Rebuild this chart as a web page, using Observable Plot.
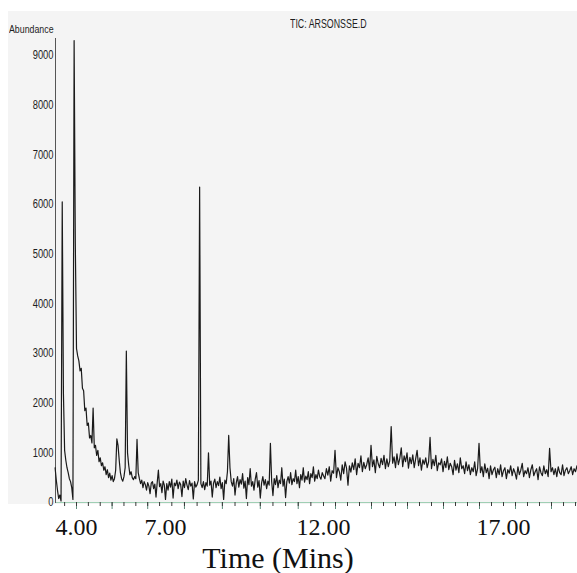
<!DOCTYPE html>
<html>
<head>
<meta charset="utf-8">
<script src="https://cdn.jsdelivr.net/npm/d3@7"></script>
<script src="https://cdn.jsdelivr.net/npm/@observablehq/plot@0.6"></script>
<style>
  body { margin: 0; background: #fff; }
  #wrap { position: relative; width: 577px; height: 573px; overflow: hidden; }
  #scan { position: absolute; left: 8px; top: 11px; width: 569px; height: 493px; background: #f4f4f4; }
  #chart { position: absolute; left: 0; top: 0; }
  .lbl { position: absolute; font-family: "Liberation Sans", Arial, sans-serif; color: #1e1e1e; white-space: nowrap; line-height: 1; transform-origin: left top; }
  #ylab { left: 9px; top: 24px; font-size: 11px; transform: scaleX(0.8); }
  #title { left: 290px; top: 17px; font-size: 13px; transform: scaleX(0.68); }
  #xlab { position: absolute; left: 0; width: 556px; top: 543px; text-align: center; font-family: "Liberation Serif", "Times New Roman", serif; font-size: 30px; line-height: 1; color: #111; }
</style>
</head>
<body>
<div id="wrap">
  <div id="scan"></div>
  <div id="chart"></div>
  <div class="lbl" id="ylab">Abundance</div>
  <div class="lbl" id="title">TIC: ARSONSSE.D</div>
  <div id="xlab">Time (Mins)</div>
</div>
<script>
// Sampling of the trace (minutes)
const startTime = 3.28;
const sampleStep = 0.04;

// 3.28 – 7.00 min
const earlyAbundance = [
  700, 450, 250, 80, 150, 30, 6050, 2200, 1050, 850,
  700, 600, 480, 420, 300, 60, 9300, 5200, 3100, 2950,
  2850, 2650, 2700, 2300, 2250, 1850, 1900, 1550, 1600, 1300,
  1350, 1200, 1900, 1100, 1150, 950, 1050, 820, 900, 740,
  800, 650, 720, 560, 660, 500, 590, 450, 540, 420,
  480, 650, 1280, 1150, 850, 600, 480, 430, 520, 700,
  3050, 1000, 750, 560, 620, 500, 460, 520, 480, 1270,
  600, 480, 380, 450, 300, 420, 360, 250, 400, 330,
  180, 390, 420, 280, 370, 110, 400, 650, 320, 380,
  200, 430, 350, 60
];

// 7.04 – 12.00 min
const midAbundance = [
  380, 250, 420, 310, 470, 90, 390, 340, 450, 280,
  410, 360, 120, 430, 300, 480, 350, 260, 440, 330,
  390, 70, 420, 310, 360, 450, 6350, 380, 300, 420,
  260, 400, 330, 1000, 350, 430, 110, 390, 470, 300,
  420, 340, 510, 280, 400, 60, 450, 380, 620, 1350,
  700, 420, 330, 480, 150, 400, 520, 310, 460, 370,
  580, 290, 430, 80, 500, 360, 680, 330, 420, 250,
  470, 600, 310, 440, 90, 390, 520, 350, 460, 280,
  430, 350, 1190, 420, 140, 480, 360, 540, 300, 450,
  380, 700, 330, 470, 100, 420, 520, 390, 600, 360,
  480, 420, 650, 380, 520, 300, 560, 450, 700, 410,
  530, 460, 620, 380, 580, 500, 720, 430, 560, 480,
  650, 520, 470, 600, 540
];

// 12.04 – 19.08 min
const lateAbundance = [
  480, 680, 550, 720, 430, 640, 590, 1050, 500, 700,
  620, 450, 760, 580, 820, 690, 350, 740, 610, 800,
  660, 880, 560, 790, 700, 940, 620, 810, 680, 760,
  900, 650, 1150, 720, 860, 600, 930, 780, 700, 890,
  760, 950, 680, 880, 720, 840, 1530, 790, 920, 700,
  980, 760, 890, 1100, 720, 940, 820, 1000, 690, 910,
  780, 960, 700, 880, 1050, 740, 900, 650, 860, 770,
  900, 700, 820, 1310, 680, 870, 740, 950, 640, 800,
  760, 880, 620, 830, 700, 920, 660, 790, 720, 560,
  850, 650, 780, 600, 900, 680, 740, 580, 820, 640,
  760, 560, 700, 620, 820, 540, 680, 1190, 600, 720,
  520, 780, 600, 690, 480, 740, 560, 660, 710, 500,
  680, 560, 760, 520, 640, 700, 480, 660, 590, 740,
  540, 680, 600, 470, 720, 560, 650, 790, 520, 640,
  580, 700, 500, 660, 760, 540, 620, 680, 460, 720,
  600, 540, 740, 580, 660, 520, 1090, 620, 700, 560,
  680, 520, 720, 600, 560, 760, 540, 650, 700, 580,
  640, 720, 560, 680, 620, 740, 600
];

const yTicks = [0, 1000, 2000, 3000, 4000, 5000, 6000, 7000, 8000, 9000];
const xTickLabels = [4, 7, 12, 17];

const abundance = [...earlyAbundance, ...midAbundance, ...lateAbundance];
const chromatogram = abundance.map((a, i) => ({
  time: +(startTime + i * sampleStep).toFixed(2),
  abundance: a
}));

// the time labels under the scan are not evenly spaced: piecewise time scale
const minorTicks = [...d3.range(3.6, 11.9, 0.4), ...d3.range(12, 19.05, 1 / 3)];
const majorTicks = minorTicks.filter((d, i) => i % 3 === 1);

const chart = Plot.plot({
  width: 577,
  height: 540,
  marginLeft: 55,
  marginRight: 0,
  marginTop: 38,
  marginBottom: 38,
  style: { background: "transparent", overflow: "visible" },
  x: { type: "linear", domain: [3.28, 4, 7, 12, 17, 19.08], range: [54.6, 76, 165, 323, 503, 577.9] },
  y: { domain: [0, 9340], range: [502, 38] },
  marks: [
    Plot.ruleY([0], { stroke: "#9fcfb4", strokeWidth: 1.2 }),
    Plot.axisX({ ticks: majorTicks, tickSize: 7, stroke: "#5e8c7a", strokeWidth: 1, tickFormat: () => "", label: null }),
    Plot.axisX({ ticks: minorTicks, tickSize: 4, stroke: "#3a3a3a", strokeWidth: 1, tickFormat: () => "", label: null }),
    Plot.axisX({
      ticks: xTickLabels, tickSize: 0, tickPadding: 15, tickFormat: d3.format(".2f"), label: null,
      fontSize: 24, fontFamily: "Liberation Serif, Times New Roman, serif", fill: "#111"
    }),
    Plot.axisY({
      ticks: yTicks, tickSize: 0, tickPadding: 2, label: null, tickFormat: d3.format("d"),
      fontSize: 12, fontFamily: "Liberation Sans, Arial, sans-serif", fill: "#1e1e1e", ariaLabel: "y-axis"
    }),
    Plot.frame({ anchor: "left", stroke: "#555", strokeWidth: 1 }),
    Plot.line(chromatogram, { x: "time", y: "abundance", stroke: "#1a1a1a", strokeWidth: 1.2, clip: false })
  ]
});

document.getElementById("chart").appendChild(chart);

// condense the y tick labels like the scanned original
d3.select(chart).selectAll("g[aria-label='y-axis tick label'] text").each(function () {
  const w = this.getComputedTextLength();
  if (w > 0) {
    this.setAttribute("textLength", (w * 0.78).toFixed(1));
    this.setAttribute("lengthAdjust", "spacingAndGlyphs");
  }
});
</script>
</body>
</html>
